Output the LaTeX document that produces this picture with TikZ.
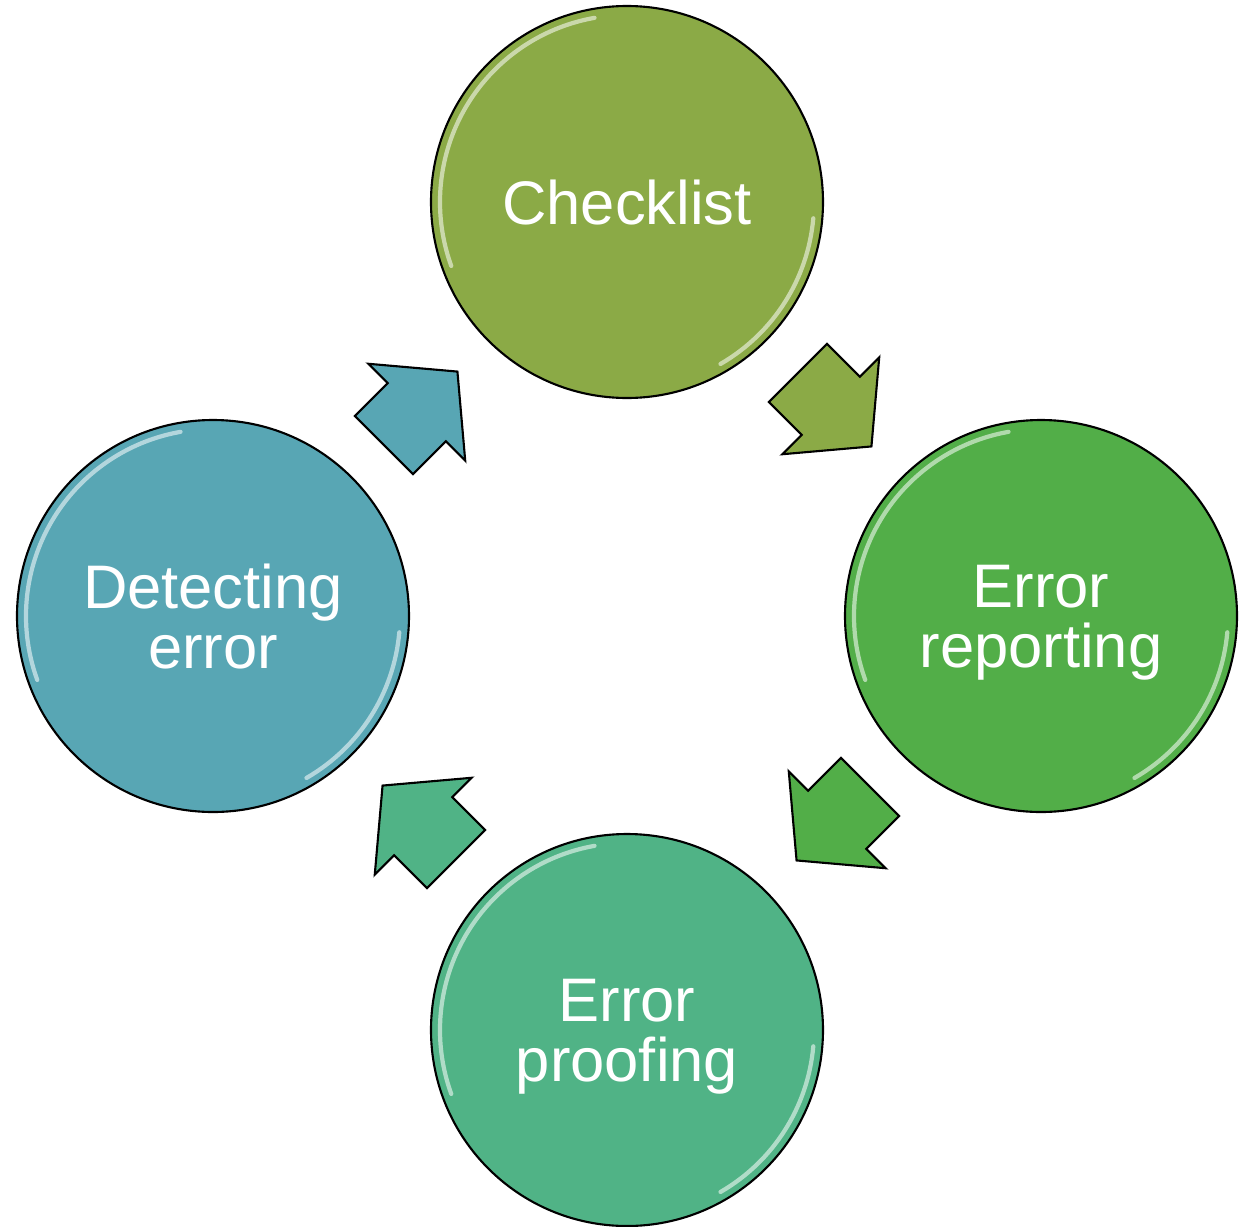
\documentclass[tikz,border=0pt]{standalone}
\usepackage{fontspec}
\setmainfont{Liberation Sans}
\usetikzlibrary{calc,shapes.arrows}

\definecolor{checkgreen}{RGB}{139,170,70}
\definecolor{reportgreen}{RGB}{82,174,72}
\definecolor{proofgreen}{RGB}{80,179,134}
\definecolor{detectblue}{RGB}{88,166,180}

\tikzset{
  StepCircle/.style = {circle, draw=black, line width=0.6pt, minimum size=3.92cm,
    inner sep=0pt, text=white, align=center, text depth=0pt,
    font=\fontsize{17.5}{17}\selectfont},
  StepArrow/.style = {single arrow, draw=black, line width=0.6pt, anchor=tail,
    inner xsep=0pt, inner ysep=0.4cm, minimum height=1.04cm,
    single arrow head extend=0.275cm, single arrow tip angle=100},
  Gloss/.style = {white, opacity=0.55, line width=1.2pt, line cap=round}
}

\begin{document}
\begin{tikzpicture}
          \useasboundingbox (-6.27,-6.10) rectangle (6.26,6.16);

          \node[StepCircle, fill=checkgreen]  (check)  at (0,4.14)  {Checklist};
          \node[StepCircle, fill=reportgreen] (report) at (4.14,0)  {Error\\reporting};
          \node[StepCircle, fill=proofgreen]  (proof)  at (0,-4.14) {Error\\proofing};
          \node[StepCircle, fill=detectblue]  (detect) at (-4.14,0) {Detecting\\error};

          % shine on the rims
          \foreach \n in {check,report,proof,detect}{
            \draw[Gloss] ($(\n.center)+(100:1.87)$) arc (100:200:1.87);
            \draw[Gloss] ($(\n.center)+(-5:1.87)$) arc (-5:-60:1.87);
          }

          % arrows between the steps (tail placed a bit before the midpoint)
          \node[StepArrow, fill=checkgreen,  rotate=-45]  (toreport) at ($(check)!0.411!(report)$) {};
          \node[StepArrow, fill=reportgreen, rotate=-135] (toproof)  at ($(report)!0.411!(proof)$) {};
          \node[StepArrow, fill=proofgreen,  rotate=135]  (todetect) at ($(proof)!0.411!(detect)$) {};
          \node[StepArrow, fill=detectblue,  rotate=45]   (tocheck)  at ($(detect)!0.411!(check)$) {};
        \end{tikzpicture}
\end{document}
